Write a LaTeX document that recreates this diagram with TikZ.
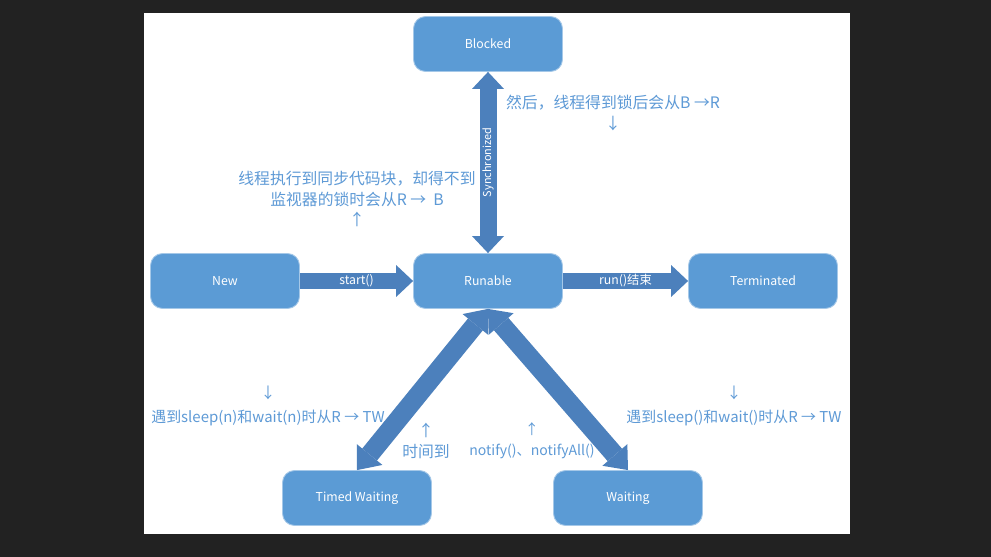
\documentclass[tikz,border=0pt]{standalone}
\usepackage{fontspec}
\setmainfont{Noto Sans CJK SC}
\usetikzlibrary{arrows.meta}
\definecolor{boxblue}{HTML}{5B9BD5}
\definecolor{arrowblue}{HTML}{4C80BC}
\definecolor{textblue}{HTML}{5E9AD6}
\definecolor{backdrop}{HTML}{222222}

\begin{document}
\begin{tikzpicture}[x=0.02cm,y=-0.02cm,
    state/.style={rounded corners=0.24cm,fill=boxblue,draw=boxblue!55!white,line width=0.5pt,
      minimum width=2.98cm,minimum height=1.1cm,text=white,font=\fontsize{7}{8}\selectfont},
    bigarrow/.style={draw=arrowblue,line width=0.34cm},
    onehead/.style={-{Triangle[length=0.34cm,width=0.64cm,line width=0pt]}},
    twoheads/.style={{Triangle[length=0.34cm,width=0.64cm,line width=0pt]}-{Triangle[length=0.34cm,width=0.64cm,line width=0pt]}},
    slanthead/.style={line width=0.38cm,
      {Triangle[length=0.4cm,width=0.66cm,line width=0pt]}-{Triangle[length=0.4cm,width=0.66cm,line width=0pt]}},
    onarrow/.style={text=white,font=\fontsize{7}{8}\selectfont},
    note/.style={text=textblue,align=center,font=\fontsize{9}{11.5}\selectfont},
    smallnote/.style={note,font=\fontsize{8.5}{13.2}\selectfont}]
   \fill[backdrop] (0,0) rectangle (991,557);
   \fill[white] (144,13) rectangle (850,534);

   \node[state] (blocked)      at (488, 44) {Blocked};
   \node[state] (new)          at (225,281) {New};
   \node[state] (runable)      at (488,281) {Runable};
   \node[state] (terminated)   at (763,281) {Terminated};
   \node[state] (timedwaiting) at (357,498) {Timed Waiting};
   \node[state] (waiting)      at (628,498) {Waiting};

   \draw[bigarrow,onehead] (new) -- (runable)
      node[midway,onarrow] {start()};
   \draw[bigarrow,onehead] (runable) -- (terminated)
      node[midway,onarrow] {run()结束};
   \draw[bigarrow,twoheads] (runable) -- (blocked)
      node[midway,onarrow,rotate=90,font=\fontsize{6.2}{7}\selectfont] {Synchronized};
   \draw[bigarrow,slanthead] (runable.south) -- (timedwaiting.north);
   \draw[bigarrow,slanthead] (runable.south) -- (waiting.north);

   \node[note] (lockout)  at (613,113) {然后，线程得到锁后会从B →R\\↓};
   \node[note] (lockin)   at (357,199) {线程执行到同步代码块，却得不到\\监视器的锁时会从R → \ B\\↑};
   \node[smallnote] (sleepn)   at (268,406) {↓\\遇到sleep(n)和wait(n)时从R → TW};
   \node[note] (timeup)   at (426,441) {↑\\时间到};
   \node[smallnote,font=\fontsize{8}{12}\selectfont] (notified) at (532,441) {↑\\notify()、notifyAll()};
   \node[smallnote] (sleep)    at (734,406) {↓\\遇到sleep()和wait()时从R → TW};
\end{tikzpicture}
\end{document}
